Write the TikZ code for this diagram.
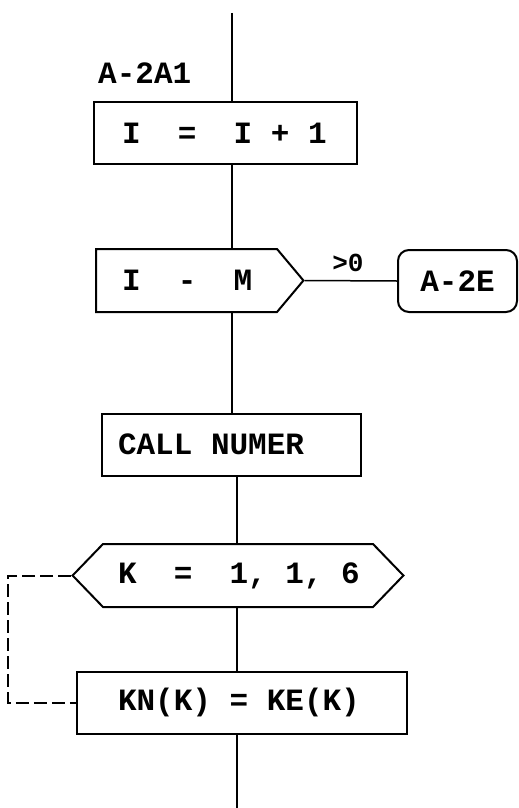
\documentclass[tikz,border=0pt]{standalone}
\usepackage{fontspec}
\setmonofont{Liberation Mono}
\usepackage{tikz}
\usetikzlibrary{shapes.symbols,positioning}
\newcommand{\flowfont}{\ttfamily\bfseries\fontsize{31}{35}\selectfont}
\newcommand{\tagfont}{\ttfamily\bfseries\fontsize{26}{30}\selectfont}
% one typewriter blank
\newcommand{\pitch}{\hphantom{0}}
\tikzset{
  procbox/.style={draw,line width=2pt,minimum height=62pt,
    inner sep=0pt,font=\flowfont,align=left},
  testbox/.style={procbox,shape=signal,signal to=east,
    signal pointer angle=100,inner xsep=26pt,minimum height=63pt},
  loopbox/.style={procbox,shape=signal,signal to=west and east,
    signal pointer angle=92,inner xsep=15pt,minimum height=63pt},
  exitbox/.style={draw,line width=2pt,rounded corners=11pt,
    minimum width=119pt,minimum height=62pt,font=\flowfont},
  flow/.style={line width=1.5pt},
  backloop/.style={line width=2pt,dash pattern=on 13pt off 5pt},
  tag/.style={font=\tagfont,inner sep=0pt},
}
\begin{document}
\begin{tikzpicture}[x=1pt,y=1pt]
  \useasboundingbox (0,0) rectangle (519,-808);
  % main line ends
  \coordinate (top) at (232,-13);
  \coordinate (bottom) at (237,-808);
  \coordinate (back) at (8,0);
  % blocks
  \node[procbox,minimum width=263pt,text width=207pt] (inc)
    at (225.5,-133) {I\pitch\pitch=\pitch\pitch I\pitch+\pitch1};
  \node[tag,anchor=west,font=\flowfont] (entry) at (98,-73) {A-2A1};
  \node[testbox,text width=129pt] (cmp) at (186.5,-280.5)
    {I\pitch\pitch-\pitch\pitch M};
  \node[exitbox] (exit) at (457.5,-281) {A-2E};
  \node[procbox,minimum width=259pt,text width=227pt] (call)
    at (231.5,-444.5) {CALL\pitch NUMER};
  \node[loopbox,text width=240pt] (loop) at (238,-575.5)
    {K\pitch\pitch=\pitch\pitch1,\pitch1,\pitch6};
  \node[procbox,minimum width=330pt,text width=248pt] (copy)
    at (242,-702.5) {KN(K)\pitch=\pitch KE(K)};

  % connectors
  \draw[flow] (top) -- (top |- inc.north);
  \draw[flow] (inc.south -| top) -- (cmp.north -| top);
  \draw[flow] (cmp.south -| top) -- (call.north -| top);
  \draw[flow] (call.south -| bottom) -- (loop.north -| bottom);
  \draw[flow] (loop.south -| bottom) -- (copy.north -| bottom);
  \draw[flow] (copy.south -| bottom) -- (bottom);
  \draw[flow] (cmp.east) -- node[tag,above=8pt,xshift=-3pt] (gt) {>0} (exit.west);
  % loop range
  \draw[backloop] (loop.west) -- (loop.west -| back) |- (copy.west);
\end{tikzpicture}
\end{document}
